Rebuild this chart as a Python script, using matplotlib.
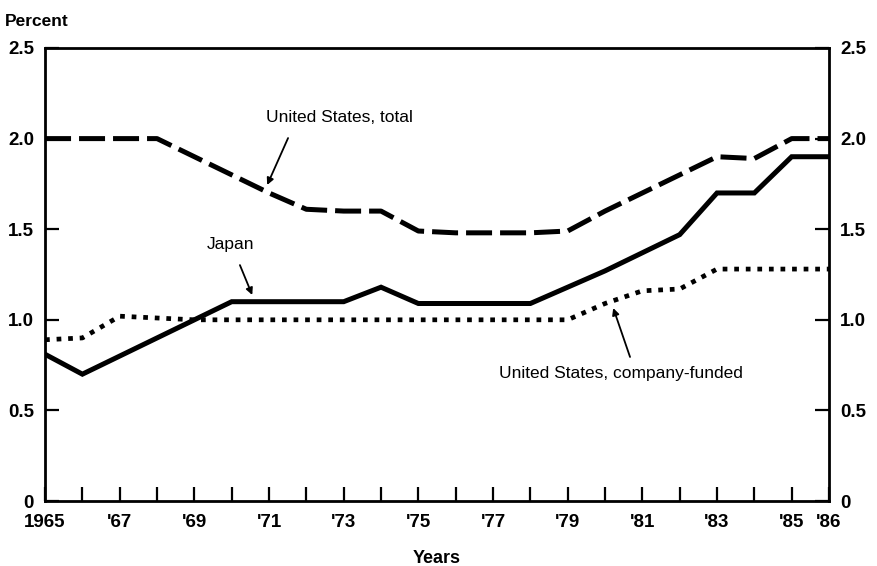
import matplotlib
matplotlib.use('Agg')
import matplotlib.pyplot as plt

plt.rcParams['font.family'] = ['Liberation Sans Narrow', 'Liberation Sans', 'DejaVu Sans']

# ── Data (percent of GNP) ────────────────────────────────────────────────────
years = list(range(1965, 1987))
us_total = [2.00, 2.00, 2.00, 2.00, 1.90, 1.80, 1.70, 1.61, 1.60, 1.60, 1.49,
            1.48, 1.48, 1.48, 1.49, 1.60, 1.70, 1.80, 1.90, 1.89, 2.00, 2.00]
japan = [0.81, 0.70, 0.80, 0.90, 1.00, 1.10, 1.10, 1.10, 1.10, 1.18, 1.09,
         1.09, 1.09, 1.09, 1.18, 1.27, 1.37, 1.47, 1.70, 1.70, 1.90, 1.90]
us_company = [0.89, 0.90, 1.02, 1.01, 1.00, 1.00, 1.00, 1.00, 1.00, 1.00, 1.00,
              1.00, 1.00, 1.00, 1.00, 1.09, 1.16, 1.17, 1.28, 1.28, 1.28, 1.28]

tick_years = [1965, 1967, 1969, 1971, 1973, 1975, 1977, 1979, 1981, 1983, 1985, 1986]
tick_labels = ['1965', "'67", "'69", "'71", "'73", "'75", "'77", "'79", "'81",
               "'83", "'85", "'86"]
y_ticks = [0, 0.5, 1.0, 1.5, 2.0, 2.5]
y_labels = ['0', '0.5', '1.0', '1.5', '2.0', '2.5']

fig = plt.figure(figsize=(8.78, 5.66), dpi=100)
fig.patch.set_facecolor('white')
ax = fig.add_axes([0.0513, 0.1148, 0.8929, 0.8004])

# ── Lines ────────────────────────────────────────────────────────────────────
ax.plot(years, us_total, color='black', lw=3.6, dashes=(5.2, 1.6),
        dash_capstyle='butt', solid_joinstyle='round')
ax.plot(years, japan, color='black', lw=3.6, solid_joinstyle='miter')
ax.plot(years, us_company, color='black', lw=3.4, dashes=(1.0, 1.45),
        dash_capstyle='butt')

# ── Axes styling ─────────────────────────────────────────────────────────────
ax.set_xlim(1965, 1986)
ax.set_ylim(0, 2.5)
for s in ax.spines.values():
    s.set_linewidth(2.0)

ax.set_xticks(years, minor=True)
ax.set_xticks(tick_years)
ax.set_xticklabels(tick_labels, fontsize=13.5, fontweight='bold')
ax.tick_params(axis='x', which='both', direction='in', length=10, width=1.6,
               pad=9, top=False)
ax.set_yticks(y_ticks)
ax.set_yticklabels(y_labels, fontsize=13.5, fontweight='bold')
ax.tick_params(axis='y', direction='in', length=10, width=1.6, pad=8,
               right=True, labelright=True)

ax.set_xlabel('Years', fontsize=13, fontweight='bold', labelpad=14)
fig.text(0.006, 0.962, 'Percent', fontsize=12.5, fontweight='bold',
         ha='left', va='center')

# ── Annotations ──────────────────────────────────────────────────────────────
arrow_kw = dict(arrowstyle='-|>', color='black', lw=1.3, mutation_scale=10,
                shrinkA=0, shrinkB=0)
ax.annotate('', xy=(1970.95, 1.744), xytext=(1971.51, 2.003), arrowprops=arrow_kw)
ax.text(1972.88, 2.114, 'United States, total', fontsize=12.5, ha='center', va='center')

ax.annotate('', xy=(1970.55, 1.137), xytext=(1970.22, 1.302), arrowprops=arrow_kw)
ax.text(1969.98, 1.413, 'Japan', fontsize=12.5, ha='center', va='center')

ax.annotate('', xy=(1980.22, 1.065), xytext=(1980.67, 0.795), arrowprops=arrow_kw)
ax.text(1980.43, 0.706, 'United States, company-funded', fontsize=12.5,
        ha='center', va='center')

fig.savefig('out.png', dpi=100, facecolor='white')
